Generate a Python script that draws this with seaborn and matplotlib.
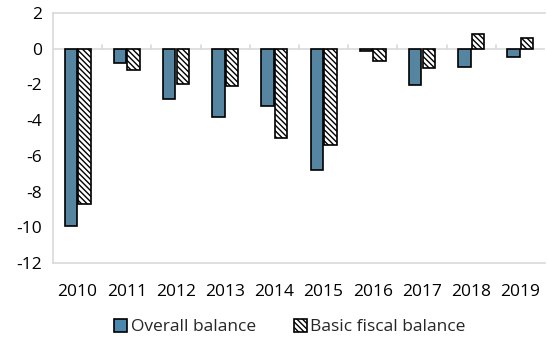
import matplotlib
matplotlib.use("Agg")
import matplotlib.pyplot as plt
import seaborn as sns
import pandas as pd
from matplotlib.patches import Patch

years = ["2010", "2011", "2012", "2013", "2014", "2015", "2016", "2017", "2018", "2019"]
overall_balance = [-9.9, -0.8, -2.8, -3.85, -3.2, -6.8, -0.15, -2.05, -1.05, -0.45]
basic_fiscal_balance = [-8.7, -1.2, -1.95, -2.1, -5.0, -5.4, -0.7, -1.1, 0.85, 0.6]
series_names = ["Overall balance", "Basic fiscal balance"]

df = pd.DataFrame({
    "year": years * 2,
    "value": overall_balance + basic_fiscal_balance,
    "series": [series_names[0]] * len(years) + [series_names[1]] * len(years),
})

sns.set_theme(style="white")
plt.rcParams["font.family"] = ["Open Sans", "DejaVu Sans"]
plt.rcParams["axes.unicode_minus"] = False
plt.rcParams["hatch.color"] = "#404040"
plt.rcParams["hatch.linewidth"] = 1.0

hatch = "\\" * 6
blue = "#4A88AD"
fig = plt.figure(figsize=(5.47, 3.43), dpi=100)
ax = fig.add_axes([53 / 547, 1 - 263 / 343, 492 / 547, 250 / 343])

sns.barplot(data=df, x="year", y="value", hue="series", order=years,
            hue_order=series_names, palette=[blue, "white"],
            width=0.56, gap=0.1, edgecolor="black", linewidth=1.2,
            legend=False, ax=ax)

n = len(years)
for i, bar in enumerate(ax.patches[:2 * n]):
    if i >= n:
        bar.set_hatch(hatch)
        bar.set_facecolor("white")

ax.set_ylim(-12, 2)
ax.set_yticks(range(-12, 3, 2))
ax.set_xlim(-0.5, n - 0.5)
ax.set_xlabel("")
ax.set_ylabel("")

grey = "#D9D9D9"
for side in ["left", "top", "bottom"]:
    ax.spines[side].set_color(grey)
    ax.spines[side].set_linewidth(1.2)
ax.spines["right"].set_visible(False)

# zero line with small upward ticks between categories
ax.axhline(0, color=grey, linewidth=1.2, zorder=0)
for k in range(1, n):
    ax.plot([k - 0.5, k - 0.5], [0, 0.22], color=grey, linewidth=1.2, zorder=0)

ax.tick_params(axis="both", length=0, labelsize=12.5, colors="black")
ax.tick_params(axis="x", pad=15)
ax.tick_params(axis="y", pad=8)

handles = [Patch(facecolor=blue, edgecolor="black", linewidth=1.2),
           Patch(facecolor="white", edgecolor="black", hatch=hatch, linewidth=1.2)]
fig.legend(handles, series_names, loc="center", bbox_to_anchor=(0.53, 1 - 327 / 343),
           ncol=2, frameon=False, fontsize=12.5, handlelength=0.75, handleheight=0.75,
           handletextpad=0.2, columnspacing=2.2)

fig.savefig("out.png", dpi=100)
